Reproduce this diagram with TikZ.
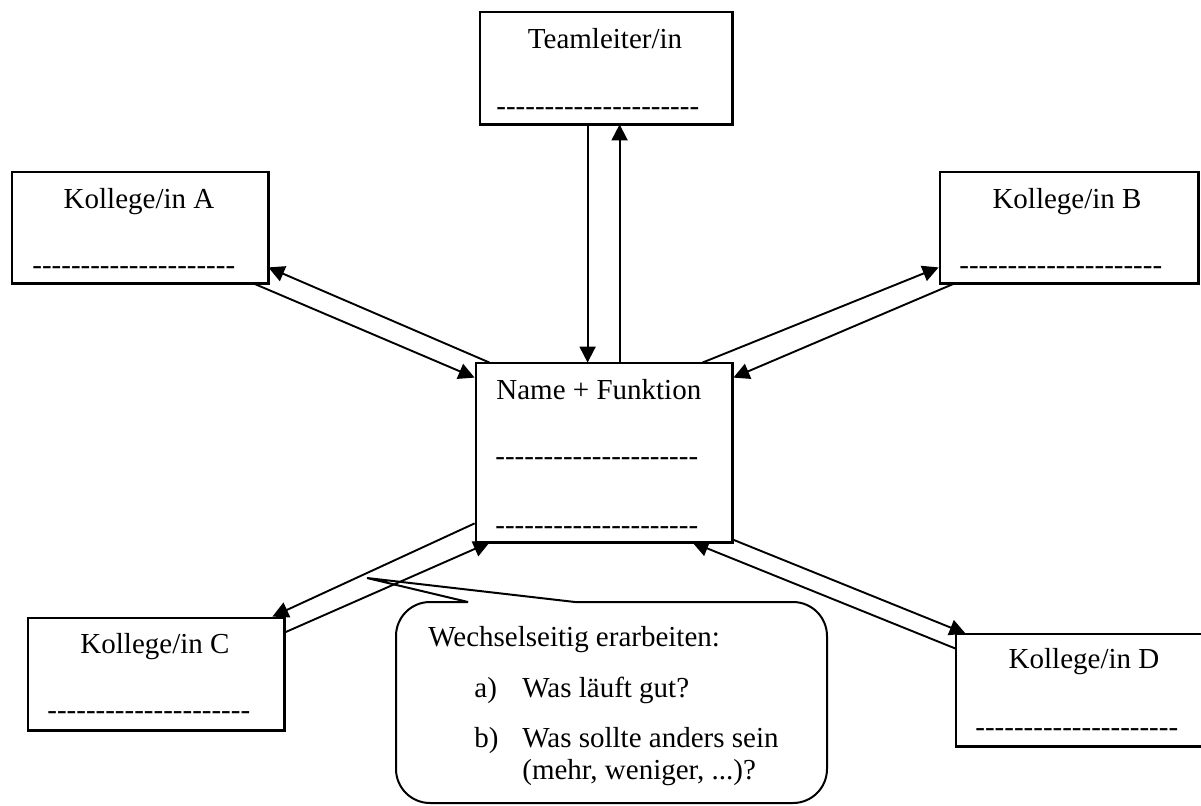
\documentclass[tikz,border=0pt]{standalone}
\usepackage{fontspec}
\setmainfont{Liberation Serif}
\usetikzlibrary{calc,arrows.meta}
\newcommand\hy{-\kern0pt}
\newcommand\dashrow{\hy\hy\hy\hy\hy\hy\hy\hy\hy\hy\hy\hy\hy\hy\hy\hy\hy\hy\hy\hy\hy}
\tikzset{
  txt/.style={font=\fontsize{14.5}{17}\selectfont, inner sep=0pt, anchor=base},
  dashtxt/.style={font=\fontsize{14.5}{17}\selectfont, inner sep=0pt, anchor=base west},
  link/.style={line width=0.95pt, -{Triangle[length=8pt,width=8pt]}},
  frame/.style={line width=1.1pt, fill=white},
  callline/.style={line width=1pt}
}
\begin{document}
\begin{tikzpicture}[x=0.5pt,y=-0.5pt]
\useasboundingbox (0,0) rectangle (1201,805);

% box placeholders (for anchors), drawn later on top of arrows
\path (606,68)    node[minimum width=126pt, minimum height=56pt, inner sep=0pt] (tl) {};
\path (140,227.5) node[minimum width=128pt, minimum height=55.5pt, inner sep=0pt] (ka) {};
\path (1069,227.5) node[minimum width=129pt, minimum height=55.5pt, inner sep=0pt] (kb) {};
\path (604,452.5) node[minimum width=128pt, minimum height=89.5pt, inner sep=0pt] (ctr) {};
\path (156,674)   node[minimum width=128pt, minimum height=56pt, inner sep=0pt] (kc) {};
\path (1084,690)  node[minimum width=128pt, minimum height=56pt, inner sep=0pt] (kd) {};

% arrows Teamleiter
\draw[link] ($(tl.south west)+(108,0)$) -- ($(ctr.north west)+(112,0)$);
\draw[link] ($(ctr.north west)+(144,0)$) -- ($(tl.south west)+(140,0)$);
% arrows A
\draw[link] ($(ctr.north west)+(14,0)$) -- ($(ka.south east)+(0,-16)$);
\draw[link] ($(ka.south east)+(-15,0)$) -- ($(ctr.north west)+(-1,15)$);
% arrows B
\draw[link] ($(ctr.north east)+(-30,0)$) -- ($(kb.south west)+(-1,-16)$);
\draw[link] ($(kb.south west)+(15,0)$) -- ($(ctr.north east)+(1,15)$);
% arrows C
\draw[link] ($(ctr.south west)+(-1,-19)$) -- ($(kc.north east)+(-12,-1)$);
\draw[link] ($(kc.north east)+(0,15)$) -- ($(ctr.south west)+(14,0)$);
% arrows D
\draw[link] ($(ctr.south east)+(0,-3)$) -- ($(kd.north west)+(10,0)$);
\draw[link] ($(kd.north west)+(0,15)$) -- ($(ctr.south east)+(-40,0)$);

% boxes
\foreach \n in {tl,ka,kb,ctr,kc,kd}{
  \draw[frame] (\n.south west) rectangle (\n.north east);
}

% texts
\node[txt] (tlt) at (605,48) {Teamleiter/in};
\node[dashtxt] (tld) at (496,115) {\dashrow};
\node[txt] (kat) at (139,208) {Kollege/in A};
\node[dashtxt] (kad) at (32,274) {\dashrow};
\node[txt] (kbt) at (1067,208) {Kollege/in B};
\node[dashtxt] (kbd) at (959,274) {\dashrow};
\node[txt, anchor=base west] (ctrt) at (496,399) {Name + Funktion};
\node[dashtxt] (ctrd1) at (495,465) {\dashrow};
\node[dashtxt] (ctrd2) at (495,534) {\dashrow};
\node[txt] (kct) at (155,653) {Kollege/in C};
\node[dashtxt] (kcd) at (47,719) {\dashrow};
\node[txt] (kdt) at (1084,668) {Kollege/in D};
\node[dashtxt] (kdd) at (975,736) {\dashrow};

% callout
\coordinate (tip) at (367,578);
\draw[callline, rounded corners=17pt] (575,602) -- (827,602) -- (827,803) -- (396,803) -- (396,602) -- (468,602);
\draw[callline] (468,602) -- (tip) -- (575,602);
\node[dashtxt] (w0) at (428,646) {Wechselseitig erarbeiten:};
\node[dashtxt] (wa) at (474,697) {a)};
\node[dashtxt] (wa2) at (522,697) {Was läuft gut?};
\node[dashtxt] (wb) at (474,747) {b)};
\node[dashtxt] (wb2) at (522,747) {Was sollte anders sein};
\node[dashtxt] (wb3) at (522,779) {(mehr, weniger, ...)?};
\end{tikzpicture}
\end{document}
